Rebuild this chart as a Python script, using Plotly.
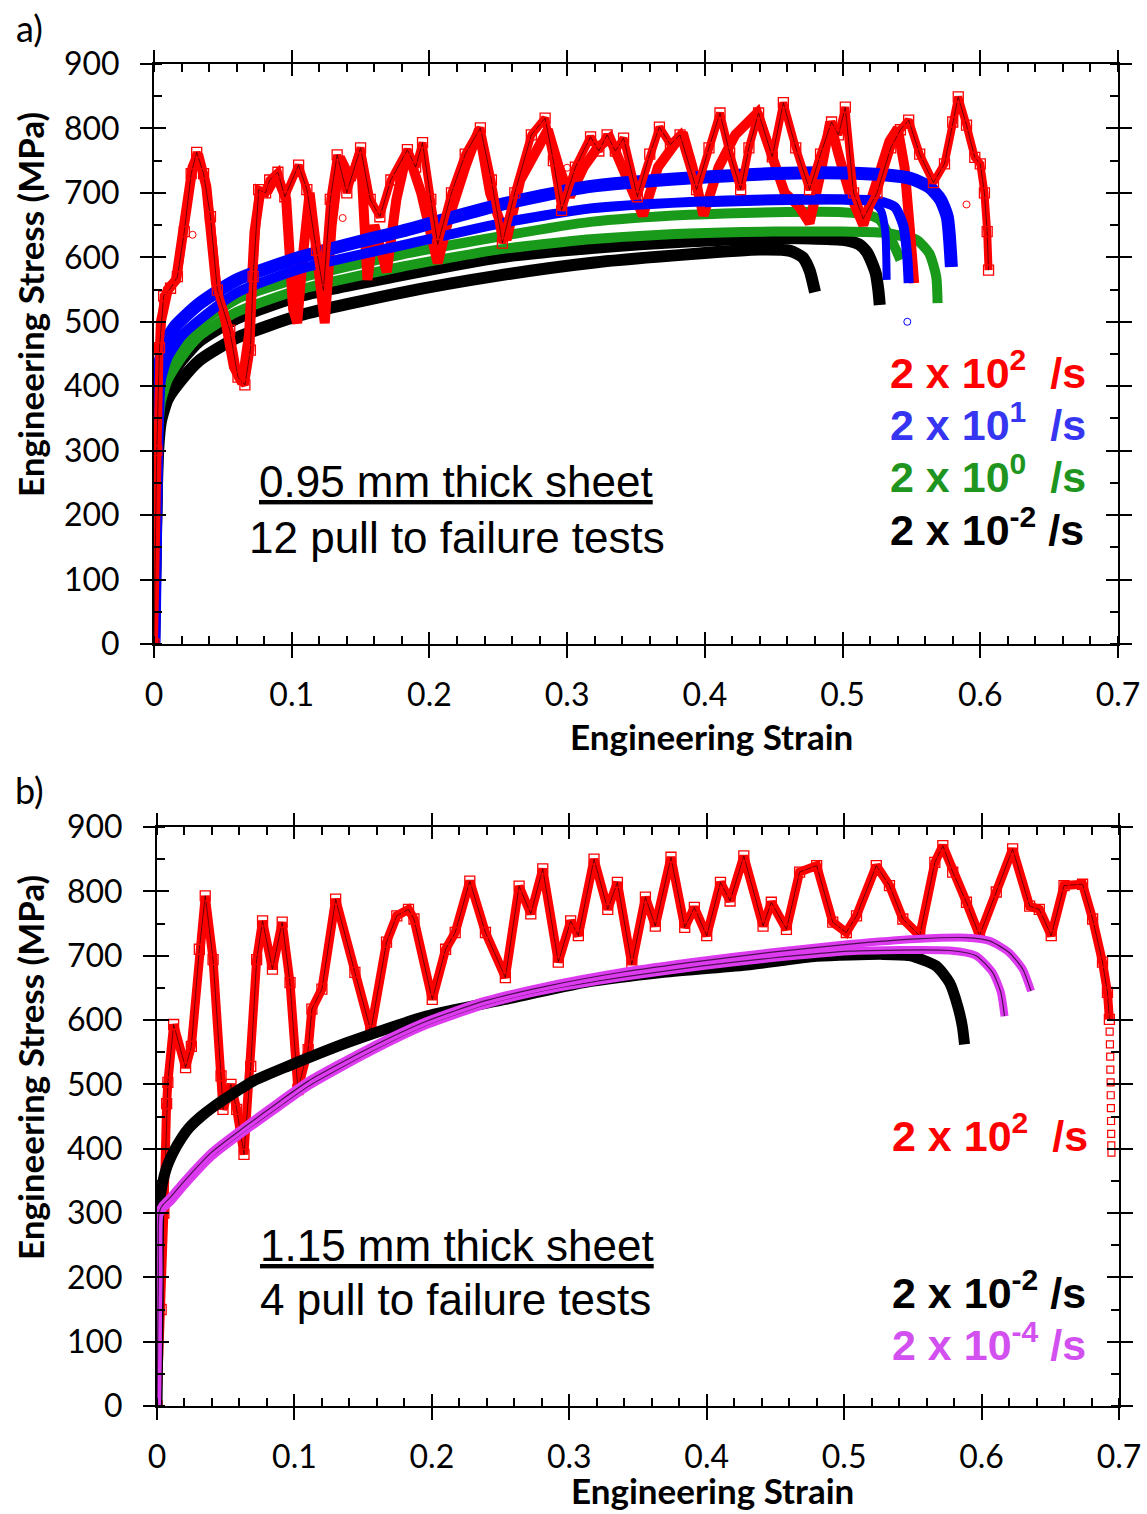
import plotly.graph_objects as go

# ---------------- Panel a: 0.95 mm sheet ----------------
# 2 x 10^2 /s, test with open-square markers
a_red1_strain = [0, 0.002, 0.004, 0.007, 0.012, 0.017, 0.022, 0.027, 0.031, 0.036, 0.041, 0.046, 0.055, 0.061,
                 0.066, 0.070, 0.072, 0.076, 0.081, 0.084, 0.090, 0.095, 0.105, 0.111, 0.118, 0.123, 0.128, 0.133,
                 0.140, 0.150, 0.157, 0.164, 0.172, 0.184, 0.190, 0.195, 0.201, 0.206, 0.216, 0.226, 0.237, 0.245,
                 0.253, 0.262, 0.274, 0.284, 0.290, 0.296, 0.306, 0.317, 0.323, 0.329, 0.335, 0.341, 0.351, 0.360,
                 0.367, 0.375, 0.382, 0.394, 0.403, 0.411, 0.418, 0.426, 0.432, 0.439, 0.449, 0.457, 0.466, 0.476,
                 0.484, 0.492, 0.497, 0.502, 0.508, 0.515, 0.525, 0.535, 0.542, 0.548, 0.556, 0.566, 0.574, 0.580,
                 0.584, 0.590, 0.596, 0.600, 0.603, 0.605, 0.606]
a_red1_stress = [0, 300, 460, 540, 552, 570, 640, 730, 763, 730, 663, 549, 487, 414,
                 402, 456, 570, 705, 700, 720, 732, 694, 743, 705, 611, 549, 690, 759,
                 700, 770, 690, 663, 720, 767, 740, 778, 690, 620, 700, 760, 801, 720,
                 622, 700, 790, 816, 750, 673, 740, 787, 765, 790, 765, 785, 694, 760,
                 802, 775, 790, 705, 770, 824, 762, 705, 770, 824, 756, 840, 770, 705,
                 760, 810, 790, 833, 700, 660, 700, 770, 798, 813, 760, 716, 745, 810,
                 849, 805, 755, 745, 700, 640, 580]

# 2 x 10^2 /s, densely sampled test
a_red2_strain = [0, 0.002, 0.005, 0.010, 0.016, 0.022, 0.028, 0.032, 0.038, 0.045, 0.052, 0.058, 0.064, 0.069,
                 0.073, 0.077, 0.083, 0.089, 0.096, 0.101, 0.104, 0.108, 0.113, 0.118, 0.124, 0.129, 0.135, 0.143,
                 0.150, 0.155, 0.160, 0.169, 0.176, 0.184, 0.194, 0.206, 0.214, 0.226, 0.236, 0.244, 0.256, 0.266,
                 0.278, 0.286, 0.294, 0.302, 0.312, 0.322, 0.331, 0.342, 0.355, 0.366, 0.376, 0.384, 0.391, 0.399,
                 0.410, 0.422, 0.438, 0.448, 0.458, 0.468, 0.476, 0.484, 0.491, 0.497, 0.505, 0.515, 0.525, 0.534,
                 0.540, 0.545, 0.549, 0.552]
a_red2_stress = [0, 320, 500, 550, 565, 650, 740, 760, 710, 560, 500, 430, 405, 480,
                 640, 700, 705, 728, 690, 520, 498, 600, 700, 610, 498, 650, 755, 720,
                 765, 565, 650, 577, 690, 765, 700, 591, 660, 740, 798, 700, 627, 720,
                 770, 798, 740, 694, 740, 770, 785, 730, 665, 740, 770, 793, 740, 665,
                 740, 790, 824, 760, 700, 680, 653, 730, 810, 760, 700, 650, 720, 780,
                 800, 740, 640, 560]

# 2 x 10^2 /s, sparse circle points
a_red3_strain = [0.028, 0.137, 0.300, 0.590]
a_red3_stress = [635, 661, 739, 682]

# 2 x 10^1 /s
a_blue1_strain = [0, 0.001, 0.002, 0.003, 0.0044, 0.008, 0.015, 0.033, 0.06, 0.106, 0.15, 0.179, 0.25, 0.317,
                  0.389, 0.45, 0.5, 0.53, 0.55, 0.563, 0.571, 0.576, 0.579]
a_blue1_stress = [0, 150, 300, 380, 436, 465, 492, 528, 565, 600, 625, 640, 681, 710,
                  723, 730, 731, 728, 722, 709, 690, 663, 585]
a_blue2_strain = [0, 0.001, 0.002, 0.003, 0.005, 0.01, 0.02, 0.033, 0.06, 0.106, 0.179, 0.25, 0.317, 0.389,
                  0.45, 0.5, 0.525, 0.538, 0.544, 0.547, 0.548]
a_blue2_stress = [0, 140, 280, 360, 410, 445, 478, 503, 545, 582, 618, 652, 676, 686,
                  690, 690, 688, 678, 650, 600, 560]
a_blue3_strain = [0.40, 0.45, 0.50, 0.522, 0.528, 0.531, 0.532]
a_blue3_stress = [684, 687, 688, 685, 672, 640, 565]
a_blue_out_strain = [0.547]
a_blue_out_stress = [500]

# 2 x 10^0 /s
a_green1_strain = [0, 0.001, 0.002, 0.003, 0.005, 0.01, 0.02, 0.033, 0.06, 0.106, 0.179, 0.25, 0.317, 0.389,
                   0.45, 0.5, 0.52, 0.527, 0.537, 0.542]
a_green1_stress = [0, 140, 270, 340, 390, 425, 460, 495, 535, 568, 604, 632, 655, 666,
                   670, 670, 665, 658, 620, 596]
a_green2_strain = [0, 0.001, 0.002, 0.003, 0.005, 0.01, 0.02, 0.033, 0.06, 0.106, 0.179, 0.25, 0.317, 0.389,
                   0.45, 0.5, 0.53, 0.545, 0.554, 0.563, 0.568, 0.569]
a_green2_stress = [0, 130, 260, 330, 375, 410, 445, 478, 515, 550, 585, 612, 628, 637,
                   640, 640, 638, 632, 627, 606, 570, 529]

# 2 x 10^-2 /s
a_black1_strain = [0, 0.001, 0.002, 0.003, 0.005, 0.01, 0.02, 0.033, 0.06, 0.106, 0.179, 0.251, 0.32, 0.39,
                   0.45, 0.5, 0.512, 0.518, 0.524, 0.526, 0.527]
a_black1_stress = [0, 130, 250, 320, 370, 405, 440, 470, 505, 540, 572, 600, 615, 625,
                   630, 627, 620, 607, 576, 549, 526]
a_black2_strain = [0, 0.001, 0.002, 0.003, 0.005, 0.01, 0.02, 0.033, 0.06, 0.106, 0.179, 0.251, 0.32, 0.39,
                   0.44, 0.462, 0.471, 0.476, 0.48]
a_black2_stress = [0, 120, 230, 300, 345, 380, 410, 440, 475, 510, 545, 572, 592, 605,
                   612, 610, 600, 580, 546]

# ---------------- Panel b: 1.15 mm sheet ----------------
b_red_strain = [0, 0.003, 0.005, 0.007, 0.0079, 0.0121, 0.0208, 0.025, 0.0308, 0.0351, 0.0408, 0.0466, 0.048,
                0.0538, 0.058, 0.0633, 0.0682, 0.0725, 0.0768, 0.084, 0.0911, 0.0968, 0.1025, 0.110, 0.1127,
                0.120, 0.130, 0.144, 0.1556, 0.167, 0.1745, 0.183, 0.187, 0.2003, 0.210, 0.217, 0.2276, 0.239,
                0.2535, 0.2635, 0.272, 0.2807, 0.292, 0.301, 0.3066, 0.318, 0.328, 0.335, 0.3455, 0.3554,
                0.3626, 0.374, 0.384, 0.391, 0.400, 0.410, 0.417, 0.427, 0.441, 0.447, 0.458, 0.4676, 0.480,
                0.4917, 0.5016, 0.509, 0.5234, 0.533, 0.5427, 0.555, 0.566, 0.5718, 0.579, 0.589, 0.5985,
                0.6107, 0.6226, 0.635, 0.642, 0.6507, 0.660, 0.6735, 0.6808, 0.688, 0.6916, 0.693]
b_red_stress = [0, 150, 300, 470, 503, 593, 526, 559, 710, 793, 694, 513, 461,
                500, 461, 391, 528, 694, 754, 679, 752, 658, 492, 554, 617,
                648, 788, 674, 583, 721, 762, 772, 757, 632, 710, 736, 816, 736,
                666, 808, 765, 835, 690, 754, 731, 850, 772, 814, 686, 791,
                746, 853, 744, 775, 731, 814, 785, 855, 746, 783, 741, 830, 840,
                752, 736, 762, 840, 809, 757, 731, 845, 871, 830, 783, 731,
                799, 866, 777, 772, 731, 809, 811, 757, 690, 643, 601]
# failure drop, recorded sparsely
b_red_tail_strain = [0.6932, 0.6934, 0.6936, 0.6937, 0.6939, 0.6940, 0.6941, 0.6942, 0.6943, 0.6944, 0.6945]
b_red_tail_stress = [582, 562, 543, 523, 503, 483, 463, 443, 423, 405, 394]

b_black_strain = [0, 0.0008, 0.0012, 0.003, 0.0066, 0.012, 0.018, 0.0236, 0.032, 0.041, 0.052, 0.07, 0.095,
                  0.1386, 0.196, 0.2536, 0.311, 0.3686, 0.431, 0.48, 0.528, 0.5476, 0.567, 0.5767, 0.5827,
                  0.586, 0.5876]
b_black_stress = [0, 150, 305, 335, 368, 395, 417, 433, 450, 465, 481, 505, 528,
                  565, 606, 632, 658, 674, 686, 699, 702, 700, 684, 658, 621,
                  590, 562]

b_mag1_strain = [0, 0.0005, 0.001, 0.0015, 0.004, 0.01, 0.02, 0.04, 0.0625, 0.09, 0.11, 0.153, 0.196, 0.239,
                 0.282, 0.34, 0.397, 0.446, 0.504, 0.5525, 0.589, 0.6058, 0.620, 0.630, 0.636]
b_mag1_stress = [0, 100, 200, 300, 312, 325, 350, 395, 432, 475, 505, 555, 598, 630,
                 652, 675, 692, 705, 718, 726, 728, 723, 705, 679, 645]
b_mag2_strain = [0, 0.0005, 0.001, 0.0015, 0.004, 0.01, 0.02, 0.04, 0.0625, 0.09, 0.11, 0.153, 0.196, 0.239,
                 0.282, 0.34, 0.397, 0.446, 0.504, 0.5767, 0.596, 0.608, 0.614, 0.6167]
b_mag2_stress = [0, 95, 195, 295, 306, 318, 343, 388, 425, 467, 497, 548, 592, 624,
                 646, 667, 684, 696, 707, 708, 700, 674, 643, 606]

# Axis ticks
x_ticks = [0, 0.1, 0.2, 0.3, 0.4, 0.5, 0.6, 0.7]
x_tick_text = ["0", "0.1", "0.2", "0.3", "0.4", "0.5", "0.6", "0.7"]
y_ticks = [0, 100, 200, 300, 400, 500, 600, 700, 800, 900]

RED = "#ff0000"
BLUE = "#0000ff"
GREEN = "#1a9a1a"
BLACK = "#000000"
MAGENTA = "#dd3bef"

W, H = 1147, 1514
fig = go.Figure()


def px(v):
    return v / W


def py(v):
    return 1 - v / H


def band(x, y, color, width, xa, ya, dark_core=False, shape="spline"):
    fig.add_trace(go.Scatter(x=x, y=y, mode="lines", xaxis=xa, yaxis=ya,
                             line=dict(color=color, width=width, shape=shape, smoothing=0.6),
                             showlegend=False, hoverinfo="skip"))
    if dark_core:
        fig.add_trace(go.Scatter(x=x, y=y, mode="lines", xaxis=xa, yaxis=ya,
                                 line=dict(color="rgba(30,0,30,0.75)", width=1.2, shape=shape, smoothing=0.6),
                                 showlegend=False, hoverinfo="skip"))


def zigzag(x, y, xa, ya, width, msize):
    fig.add_trace(go.Scatter(x=x, y=y, mode="lines", xaxis=xa, yaxis=ya,
                             line=dict(color=RED, width=width),
                             showlegend=False, hoverinfo="skip"))
    fig.add_trace(go.Scatter(x=x, y=y, mode="lines+markers", xaxis=xa, yaxis=ya,
                             line=dict(color="rgba(50,0,0,0.7)", width=1),
                             marker=dict(symbol="square-open", size=msize, color=RED,
                                         line=dict(width=1.3, color=RED)),
                             showlegend=False, hoverinfo="skip"))


# ---- panel a traces ----
band(a_black2_strain, a_black2_stress, BLACK, 12, "x", "y")
band(a_black1_strain, a_black1_stress, BLACK, 12, "x", "y")
band(a_green2_strain, a_green2_stress, GREEN, 10, "x", "y")
band(a_green1_strain, a_green1_stress, GREEN, 10, "x", "y")
fig.add_trace(go.Scatter(x=a_red2_strain, y=a_red2_stress, mode="lines", xaxis="x", yaxis="y",
                         line=dict(color=RED, width=10), showlegend=False, hoverinfo="skip"))
band(a_blue3_strain, a_blue3_stress, BLUE, 8, "x", "y")
band(a_blue2_strain, a_blue2_stress, BLUE, 10, "x", "y")
band(a_blue1_strain, a_blue1_stress, BLUE, 13, "x", "y")
zigzag(a_red1_strain, a_red1_stress, "x", "y", 8, 10)
fig.add_trace(go.Scatter(x=a_red3_strain, y=a_red3_stress, mode="markers", xaxis="x", yaxis="y",
                         marker=dict(symbol="circle-open", size=7, color=RED, line=dict(width=1)),
                         showlegend=False, hoverinfo="skip"))
fig.add_trace(go.Scatter(x=a_blue_out_strain, y=a_blue_out_stress, mode="markers", xaxis="x", yaxis="y",
                         marker=dict(symbol="circle-open", size=7, color=BLUE, line=dict(width=1)),
                         showlegend=False, hoverinfo="skip"))

# ---- panel b traces ----
zigzag(b_red_strain, b_red_stress, "x2", "y2", 9, 10)
fig.add_trace(go.Scatter(x=b_red_tail_strain, y=b_red_tail_stress, mode="markers", xaxis="x2", yaxis="y2",
                         marker=dict(symbol="square-open", size=7, color=RED, line=dict(width=1.2)),
                         showlegend=False, hoverinfo="skip"))
band(b_black_strain, b_black_stress, BLACK, 11, "x2", "y2")
band(b_mag2_strain, b_mag2_stress, MAGENTA, 8, "x2", "y2", dark_core=True)
band(b_mag1_strain, b_mag1_stress, MAGENTA, 8, "x2", "y2", dark_core=True)

# empty traces that activate the overlay axes carrying the inward half of the major ticks
for xa, ya in (("x3", "y3"), ("x4", "y4")):
    fig.add_trace(go.Scatter(x=[None], y=[None], xaxis=xa, yaxis=ya, showlegend=False, hoverinfo="skip"))

TICK_FONT = dict(family="Lato", size=32, color="black")

dom_a_x = [px(154), px(1118)]
dom_a_y = [py(644), py(64)]
dom_b_x = [px(157), px(1119)]
dom_b_y = [py(1406), py(827)]


def base_x(domain, anchor):
    return dict(domain=domain, anchor=anchor, range=[0, 0.7], tickmode="array", tickvals=x_ticks,
                ticktext=x_tick_text, ticks="outside", ticklen=12, tickwidth=2, tickcolor="black",
                showline=True, linecolor="black", linewidth=2, mirror="ticks", showgrid=False,
                zeroline=False, tickfont=TICK_FONT, ticklabelstandoff=10, automargin=False,
                minor=dict(ticks="inside", ticklen=8, tickwidth=1.5, tickcolor="black", dtick=0.02,
                           tick0=0, showgrid=False))


def base_y(domain, anchor):
    return dict(domain=domain, anchor=anchor, range=[0, 900], tickmode="array", tickvals=y_ticks,
                ticks="outside", ticklen=12, tickwidth=2, tickcolor="black",
                showline=True, linecolor="black", linewidth=2, mirror="ticks", showgrid=False,
                zeroline=False, tickfont=TICK_FONT, ticklabelstandoff=14, automargin=False,
                minor=dict(ticks="inside", ticklen=8, tickwidth=1.5, tickcolor="black", dtick=50,
                           tick0=0, showgrid=False))


def inner_x(over, anchor):
    return dict(overlaying=over, anchor=anchor, range=[0, 0.7], tickmode="array", tickvals=x_ticks,
                ticks="inside", ticklen=12, tickwidth=2, tickcolor="black", showticklabels=False,
                showline=False, mirror="ticks", showgrid=False, zeroline=False, automargin=False)


def inner_y(over, anchor):
    return dict(overlaying=over, anchor=anchor, range=[0, 900], tickmode="array", tickvals=y_ticks,
                ticks="inside", ticklen=12, tickwidth=2, tickcolor="black", showticklabels=False,
                showline=False, mirror="ticks", showgrid=False, zeroline=False, automargin=False)


fig.update_layout(
    width=W, height=H, margin=dict(l=0, r=0, t=0, b=0, pad=0, autoexpand=False),
    paper_bgcolor="white", plot_bgcolor="rgba(0,0,0,0)", showlegend=False,
    xaxis=base_x(dom_a_x, "y"), yaxis=base_y(dom_a_y, "x"),
    xaxis2=base_x(dom_b_x, "y2"), yaxis2=base_y(dom_b_y, "x2"),
    xaxis3=inner_x("x", "y3"), yaxis3=inner_y("y", "x3"),
    xaxis4=inner_x("x2", "y4"), yaxis4=inner_y("y2", "x4"),
)

TITLE_FONT = dict(family="Lato", size=35, color="black")
LABEL_FONT = dict(family="Lato", size=36, color="black")
NOTE_FONT = dict(family="Liberation Sans", size=44, color="black")


def note(text, x, y, font, xanchor="center", **kw):
    fig.add_annotation(text=text, x=x, y=y, xref="paper", yref="paper", showarrow=False, font=font,
                       xanchor=xanchor, yanchor="middle", **kw)


# panel labels and axis titles
note("a)", px(30), py(28), LABEL_FONT)
note("b)", px(30), py(790), LABEL_FONT)
note("<b>Engineering Strain</b>", px(711), py(736), TITLE_FONT)
note("<b>Engineering Strain</b>", px(712), py(1490), TITLE_FONT)
note("<b>Engineering Stress (MPa)</b>", px(30), py(305), TITLE_FONT, textangle=-90)
note("<b>Engineering Stress (MPa)</b>", px(30), py(1068), TITLE_FONT, textangle=-90)

# specimen descriptions
note("<u>0.95 mm thick sheet</u>", px(456), py(481), NOTE_FONT)
note("12 pull to failure tests", px(457), py(537), NOTE_FONT)
note("<u>1.15 mm thick sheet</u>", px(457), py(1245), NOTE_FONT)
note("4 pull to failure tests", px(455), py(1299), NOTE_FONT)


# strain-rate labels
def rate(text, color, xr, yc):
    note("<b>" + text + "</b>", px(xr), py(yc),
         dict(family="Liberation Sans", size=43, color=color), xanchor="right")


rate("2 x 10<sup>2</sup>  /s", RED, 1088, 370)
rate("2 x 10<sup>1</sup>  /s", "#3535f2", 1088, 422)
rate("2 x 10<sup>0</sup>  /s", "#1f951f", 1088, 474)
rate("2 x 10<sup>-2</sup> /s", BLACK, 1086, 527)
rate("2 x 10<sup>2</sup>  /s", RED, 1090, 1133)
rate("2 x 10<sup>-2</sup> /s", BLACK, 1088, 1290)
rate("2 x 10<sup>-4</sup> /s", "#d24ff0", 1088, 1342)

fig.write_html("out.html")
